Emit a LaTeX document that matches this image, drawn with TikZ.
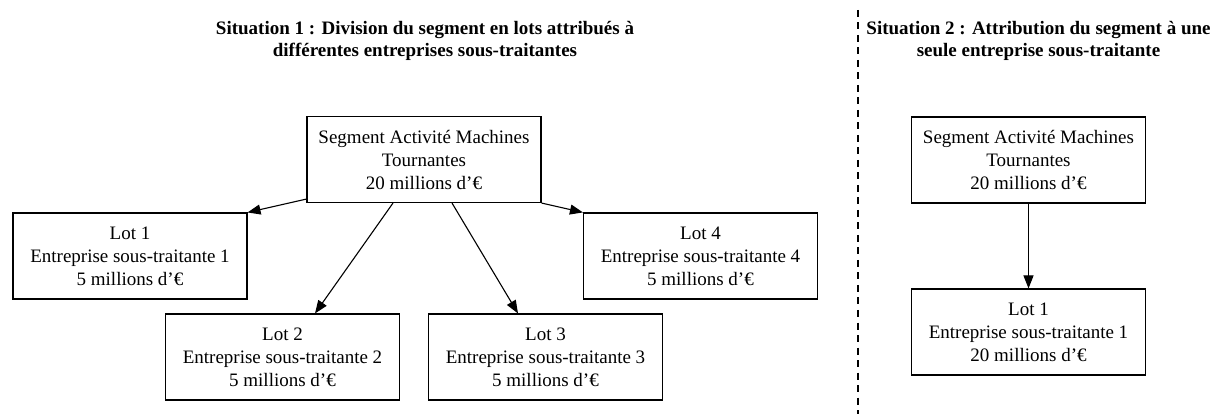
\documentclass[tikz,border=0pt]{standalone}
\usepackage{fontspec}
\setmainfont{Liberation Serif}
\usetikzlibrary{arrows.meta,calc}

\begin{document}
\begin{tikzpicture}[x=1pt, y=-1pt,
  lotbox/.style={draw, line width=1.1pt, minimum width=234pt, minimum height=86pt, inner sep=0pt, align=center, font=\fontsize{19}{23}\selectfont},
  titre/.style={align=center, inner sep=0pt, font=\fontsize{19}{22}\selectfont\bfseries},
  fleche/.style={line width=1.1pt, -{Triangle[length=13pt, width=10pt]}}]
  \useasboundingbox (0,0) rectangle (1217,419);

  % Situation 1
  \node[titre] (titre1) at (425,41) {Situation 1 : Division du segment en lots attribués à\\différentes entreprises sous-traitantes};
  \node[lotbox] (seg1) at (424,159.5) {Segment Activité Machines\\Tournantes\\20 millions d’€};
  \node[lotbox] (lot1) at (130,256) {Lot 1\\Entreprise sous-traitante 1\\5 millions d’€};
  \node[lotbox] (lot2) at (282.5,357) {Lot 2\\Entreprise sous-traitante 2\\5 millions d’€};
  \node[lotbox] (lot3) at (545.5,357) {Lot 3\\Entreprise sous-traitante 3\\5 millions d’€};
  \node[lotbox] (lot4) at (700.5,256) {Lot 4\\Entreprise sous-traitante 4\\5 millions d’€};

  \draw[fleche] ($(seg1.south west)+(0,-4)$) -- (lot1.north east);
  \draw[fleche] ($(seg1.south)+(-31,0)$) -- ($(lot2.north)+(32.5,0)$);
  \draw[fleche] ($(seg1.south)+(28,0)$) -- ($(lot3.north)+(-27.5,0)$);
  \draw[fleche] (seg1.south east) -- (lot4.north west);

  % separation
  \coordinate (sep haut) at (858,10);
  \coordinate (sep bas) at (858,414);
  \draw[line width=1.4pt, dash pattern=on 7pt off 5.5pt] (sep haut) -- (sep bas);

  % Situation 2
  \node[titre] (titre2) at (1038.5,41) {Situation 2 : Attribution du segment à une\\seule entreprise sous-traitante};
  \node[lotbox] (seg2) at (1028.5,160) {Segment Activité Machines\\Tournantes\\20 millions d’€};
  \node[lotbox] (lotb) at (1028.5,332) {Lot 1\\Entreprise sous-traitante 1\\20 millions d’€};

  \draw[fleche] (seg2) -- (lotb);
\end{tikzpicture}
\end{document}
